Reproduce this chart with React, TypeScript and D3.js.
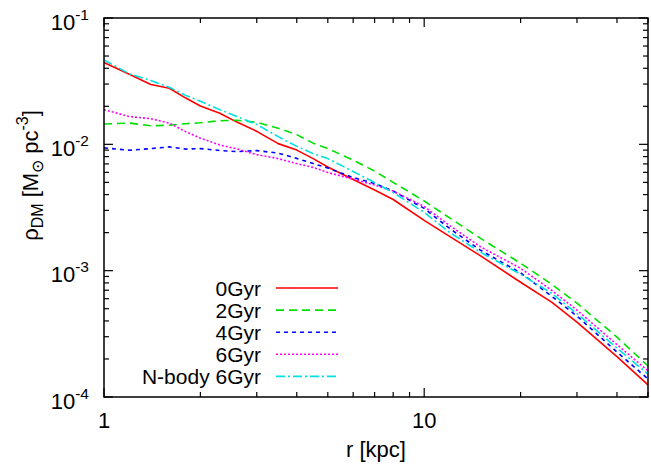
import React from "react";
import * as d3 from "d3";

const radii = [1, 1.2, 1.4, 1.6, 1.8, 2, 2.3, 2.6, 3, 3.5, 4, 4.5, 5, 6, 7, 8, 10, 12, 15, 20, 25, 30, 40, 50];

const rho0Gyr = [0.04437, 0.03588, 0.0298, 0.02782, 0.02324, 0.02009, 0.01763, 0.015, 0.01267, 0.01013, 0.009, 0.00771, 0.00662, 0.00526, 0.00435, 0.00366, 0.0025, 0.00187, 0.001311, 0.00081, 0.000563, 0.000391, 0.000209, 0.0001246];
const rho2Gyr = [0.01449, 0.01475, 0.01404, 0.01417, 0.01457, 0.01483, 0.01538, 0.01553, 0.01492, 0.01342, 0.01193, 0.01022, 0.00925, 0.0075, 0.00614, 0.005, 0.00356, 0.00262, 0.0018, 0.001144, 0.000781, 0.000553, 0.000298, 0.000176];
const rho4Gyr = [0.00937, 0.00897, 0.00925, 0.00954, 0.00917, 0.00925, 0.00894, 0.00876, 0.00892, 0.00852, 0.00774, 0.00704, 0.00649, 0.00546, 0.0049, 0.00427, 0.00311, 0.00216, 0.00145, 0.000962, 0.000628, 0.000437, 0.000227, 0.000139];
const rho6Gyr = [0.01879, 0.0166, 0.01596, 0.01473, 0.0126, 0.01119, 0.00988, 0.0092, 0.00829, 0.00771, 0.00704, 0.00657, 0.00598, 0.00531, 0.00476, 0.00427, 0.00322, 0.00228, 0.001543, 0.001044, 0.0007, 0.000487, 0.00026, 0.000161];
const rhoNbody6Gyr = [0.04661, 0.03614, 0.03205, 0.02828, 0.02441, 0.02193, 0.01882, 0.0166, 0.01436, 0.0115, 0.00964, 0.00844, 0.00771, 0.00609, 0.00498, 0.00416, 0.00289, 0.00201, 0.001397, 0.000937, 0.000663, 0.000457, 0.000244, 0.000152];

const seriesNames = ["0Gyr", "2Gyr", "4Gyr", "6Gyr", "N-body 6Gyr"];
const seriesValues = [rho0Gyr, rho2Gyr, rho4Gyr, rho6Gyr, rhoNbody6Gyr];
const seriesColors = ["#ff0000", "#00e000", "#0000ff", "#ff00ff", "#00e0e0"];
const seriesDash = ["", "8,5", "4,4", "2,2", "9,3,2,3"];

const xMajorTicks = [1, 10];
const xTickLabels = ["1", "10"];
const yMajorExps = [-4, -3, -2, -1];

const W = 651;
const H = 464;
const L = 104;
const R = 648;
const T = 18;
const B = 397;
const FONT = "'Liberation Sans', Arial, Helvetica, sans-serif";

export default function App() {
  const x = d3.scaleLog().domain([1, 50]).range([L, R]);
  const y = d3.scaleLog().domain([1e-4, 1e-1]).range([B, T]);

  const xMinor: number[] = [];
  for (const dec of [1, 10]) for (let m = 2; m <= 9; m++) if (m * dec <= 50) xMinor.push(m * dec);
  const yMinor: number[] = [];
  for (const e of [-4, -3, -2]) for (let m = 2; m <= 9; m++) yMinor.push(m * Math.pow(10, e));

  const line = d3
    .line<[number, number]>()
    .x((d) => x(d[0]))
    .y((d) => y(d[1]));

  const major = 9;
  const minor = 5;

  return (
    <>
      <style>{"body{margin:0;}"}</style>
      <svg width={W} height={H} style={{ display: "block", fontFamily: FONT }}>
        <rect width={W} height={H} fill="#fff" />
        <defs>
          <clipPath id="plot">
            <rect x={L} y={T} width={R - L} height={B - T} />
          </clipPath>
        </defs>
        <g clipPath="url(#plot)">
          {seriesValues.map((vals, i) => (
            <path
              key={i}
              d={line(radii.map((r, j) => [r, vals[j]] as [number, number])) || ""}
              fill="none"
              stroke={seriesColors[i]}
              strokeWidth={1.6}
              strokeLinejoin="round"
              strokeDasharray={seriesDash[i] || undefined}
            />
          ))}
        </g>
        <g stroke="#000" strokeWidth={1.2}>
          {xMajorTicks.map((t) => (
            <g key={"xm" + t}>
              <line x1={x(t)} x2={x(t)} y1={B} y2={B - major} />
              <line x1={x(t)} x2={x(t)} y1={T} y2={T + major} />
            </g>
          ))}
          {xMinor.map((t) => (
            <g key={"xn" + t}>
              <line x1={x(t)} x2={x(t)} y1={B} y2={B - minor} />
              <line x1={x(t)} x2={x(t)} y1={T} y2={T + minor} />
            </g>
          ))}
          {yMajorExps.map((e) => (
            <g key={"ym" + e}>
              <line x1={L} x2={L + major} y1={y(Math.pow(10, e))} y2={y(Math.pow(10, e))} />
              <line x1={R} x2={R - major} y1={y(Math.pow(10, e))} y2={y(Math.pow(10, e))} />
            </g>
          ))}
          {yMinor.map((t, k) => (
            <g key={"yn" + k}>
              <line x1={L} x2={L + minor} y1={y(t)} y2={y(t)} />
              <line x1={R} x2={R - minor} y1={y(t)} y2={y(t)} />
            </g>
          ))}
        </g>
        <rect x={L} y={T} width={R - L} height={B - T} fill="none" stroke="#000" strokeWidth={1.5} />
        {xMajorTicks.map((t, i) => (
          <text key={"xl" + t} x={x(t)} y={428} textAnchor="middle" fontSize={22} fill="#000">
            {xTickLabels[i]}
          </text>
        ))}
        {yMajorExps.map((e) => (
          <text key={"yl" + e} x={89} y={y(Math.pow(10, e)) + 11.5} textAnchor="end" fontSize={22} fill="#000">
            10
            <tspan fontSize={15.5} dy={-10}>
              {e}
            </tspan>
          </text>
        ))}
        <text x={(L + R) / 2} y={457} textAnchor="middle" fontSize={22} fill="#000">
          r [kpc]
        </text>
        <text transform={`translate(38,${(T + B) / 2 - 32}) rotate(-90)`} textAnchor="middle" fontSize={22} fill="#000">
          ρ
          <tspan fontSize={16} dy={5}>DM</tspan>
          <tspan dy={-5}> [M</tspan>
          <tspan fontSize={16} dy={5}>⊙</tspan>
          <tspan dy={-5}> pc</tspan>
          <tspan fontSize={16} dy={-10}>-3</tspan>
          <tspan dy={10}>]</tspan>
        </text>
        {seriesNames.map((name, i) => {
          const ly = 288 + i * 22.1;
          return (
            <g key={name}>
              <text x={261} y={ly + 7.5} textAnchor="end" fontSize={21} fill="#000">
                {name}
              </text>
              <line
                x1={276}
                x2={338}
                y1={ly}
                y2={ly}
                stroke={seriesColors[i]}
                strokeWidth={1.6}
                strokeDasharray={seriesDash[i] || undefined}
              />
            </g>
          );
        })}
      </svg>
    </>
  );
}
